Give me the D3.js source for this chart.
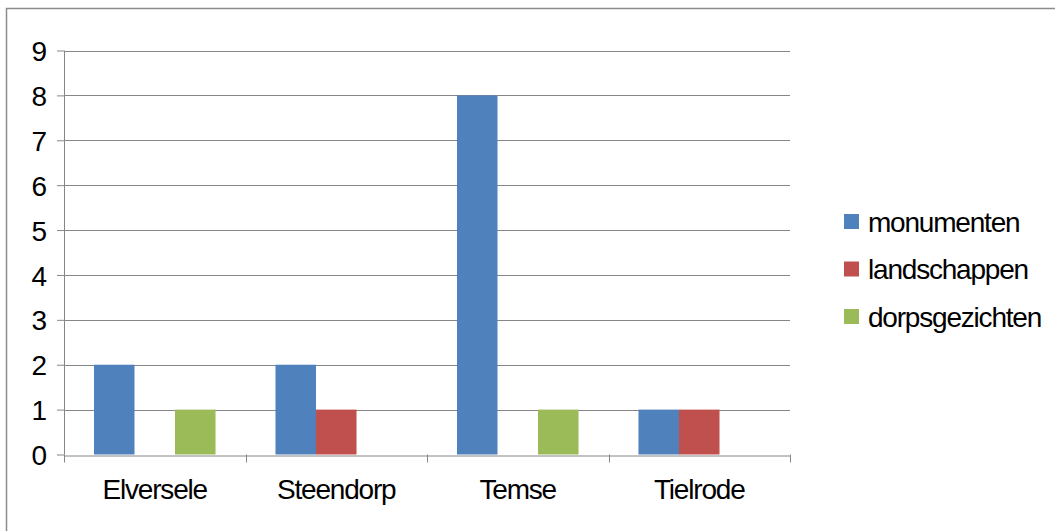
<!DOCTYPE html>
<html>
<head>
<meta charset="utf-8">
<script src="https://cdn.jsdelivr.net/npm/d3@7"></script>
<style>
  body { margin: 0; background: #fff; }
  svg text { font-family: "Liberation Sans", Arial, sans-serif; fill: #000; }
</style>
</head>
<body>
<div id="chart"></div>
<script>
const categories = ["Elversele", "Steendorp", "Temse", "Tielrode"];
const series = ["monumenten", "landschappen", "dorpsgezichten"];
const monumenten = [2, 2, 8, 1];
const landschappen = [0, 1, 0, 1];
const dorpsgezichten = [1, 0, 1, 0];
const yTicks = [0, 1, 2, 3, 4, 5, 6, 7, 8, 9];
const colors = ["#4F81BD", "#C0504D", "#9BBB59"];

const values = [monumenten, landschappen, dorpsgezichten];

const width = 1055,
  height = 531;
const margin = { top: 50.5, right: 265, bottom: 76.5, left: 64 };

const svg = d3
  .select("#chart")
  .append("svg")
  .attr("width", width)
  .attr("height", height);

// outer chart border (only left/top visible in the picture)
svg
  .append("rect")
  .attr("x", 6.5)
  .attr("y", 8.5)
  .attr("width", width + 20)
  .attr("height", height + 20)
  .attr("fill", "none")
  .attr("stroke", "#8c8c8c")
  .attr("stroke-width", 1.5);

const x0 = d3
  .scaleBand()
  .domain(categories)
  .range([margin.left, width - margin.right]);

const x1 = d3
  .scaleBand()
  .domain(series)
  .range([0, x0.bandwidth()])
  .paddingInner(0)
  .paddingOuter(0.74);

const y = d3
  .scaleLinear()
  .domain([0, 9])
  .range([height - margin.bottom, margin.top]);

// gridlines
svg
  .append("g")
  .selectAll("line")
  .data(yTicks.filter((d) => d > 0))
  .enter()
  .append("line")
  .attr("x1", margin.left)
  .attr("x2", width - margin.right)
  .attr("y1", (d) => Math.round(y(d)) + 0.5)
  .attr("y2", (d) => Math.round(y(d)) + 0.5)
  .attr("stroke", "#868686")
  .attr("stroke-width", 1);

// bars
const groups = svg
  .append("g")
  .selectAll("g")
  .data(categories)
  .enter()
  .append("g")
  .attr("transform", (d) => `translate(${x0(d)},0)`);

groups
  .selectAll("rect")
  .data((d, i) => series.map((s, j) => ({ s, j, v: values[j][i] })))
  .enter()
  .append("rect")
  .attr("x", (d) => x1(d.s))
  .attr("width", x1.bandwidth())
  .attr("y", (d) => y(d.v))
  .attr("height", (d) => y(0) - y(d.v))
  .attr("fill", (d) => colors[d.j]);

// y axis
const yAxis = svg
  .append("g")
  .attr("transform", `translate(${margin.left},0)`)
  .call(d3.axisLeft(y).tickValues(yTicks).tickSize(7).tickPadding(10).tickFormat(d3.format("d")));
yAxis.select(".domain").attr("stroke", "#868686").attr("d", `M0.5,${margin.top}V${y(0)}`);
yAxis.selectAll(".tick line").attr("stroke", "#868686");
yAxis
  .selectAll(".tick text")
  .style("font-size", "28px")
  .attr("dy", "0.36em");

// x axis
const xAxis = svg
  .append("g")
  .attr("transform", `translate(0,${Math.round(y(0)) + 0.5})`)
  .call(d3.axisBottom(x0).tickSize(0).tickPadding(24));
xAxis.select(".domain").attr("stroke", "#868686");
xAxis.selectAll(".tick text")
  .style("font-size", "28px")
  .style("letter-spacing", "-1.2px");

// category separators
svg
  .append("g")
  .selectAll("line")
  .data(categories.concat(["end"]))
  .enter()
  .append("line")
  .attr("x1", (d, i) => Math.round(margin.left + i * x0.step()) + 0.5)
  .attr("x2", (d, i) => Math.round(margin.left + i * x0.step()) + 0.5)
  .attr("y1", y(0))
  .attr("y2", y(0) + 8)
  .attr("stroke", "#868686");

// legend
const legend = svg
  .append("g")
  .attr("transform", "translate(844,214)")
  .selectAll("g")
  .data(series)
  .enter()
  .append("g")
  .attr("transform", (d, i) => `translate(0,${i * 47.5})`);

legend
  .append("rect")
  .attr("width", 15)
  .attr("height", 15)
  .attr("fill", (d, i) => colors[i]);

legend
  .append("text")
  .attr("x", 24)
  .attr("y", 7.5)
  .attr("dy", "0.36em")
  .style("font-size", "28px")
  .style("letter-spacing", "-1.2px")
  .text((d) => d);
</script>
</body>
</html>
